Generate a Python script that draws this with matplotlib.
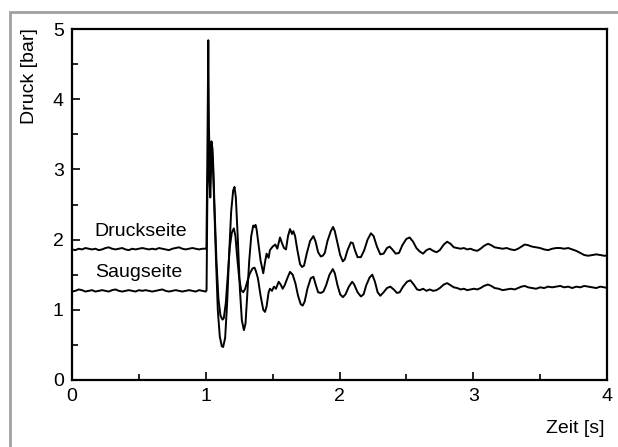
import matplotlib
matplotlib.use("Agg")
import matplotlib.pyplot as plt
from matplotlib.patches import Rectangle
from matplotlib.ticker import MultipleLocator

plt.rcParams['font.family'] = ['Liberation Sans', 'DejaVu Sans']

# Druckseite (pressure side)
t_druck = [
    0.000, 0.025, 0.050, 0.075, 0.100, 0.125, 0.150, 0.175, 0.200, 0.225,
    0.250, 0.275, 0.300, 0.325, 0.350, 0.375, 0.400, 0.425, 0.450, 0.475,
    0.500, 0.525, 0.550, 0.575, 0.600, 0.625, 0.650, 0.675, 0.700, 0.725,
    0.750, 0.775, 0.800, 0.825, 0.850, 0.875, 0.900, 0.925, 0.950, 0.975,
    1.000, 1.005, 1.012, 1.019, 1.024, 1.030, 1.036, 1.043, 1.050, 1.060,
    1.075, 1.090, 1.105, 1.120, 1.130, 1.145, 1.160, 1.175, 1.190, 1.205,
    1.215, 1.225, 1.240, 1.255, 1.270, 1.285, 1.297, 1.310, 1.325, 1.340,
    1.355, 1.365, 1.372, 1.380, 1.390, 1.410, 1.430, 1.445, 1.455, 1.470,
    1.480, 1.500, 1.520, 1.535, 1.555, 1.570, 1.585, 1.600, 1.615, 1.630,
    1.645, 1.655, 1.668, 1.685, 1.705, 1.720, 1.735, 1.755, 1.780, 1.805,
    1.820, 1.840, 1.860, 1.875, 1.890, 1.910, 1.935, 1.952, 1.965, 1.985,
    2.005, 2.025, 2.040, 2.060, 2.085, 2.100, 2.115, 2.135, 2.160, 2.185,
    2.210, 2.235, 2.255, 2.280, 2.305, 2.330, 2.355, 2.375, 2.395, 2.420,
    2.445, 2.470, 2.500, 2.525, 2.550, 2.575, 2.600, 2.625, 2.650, 2.675,
    2.700, 2.725, 2.750, 2.780, 2.805, 2.830, 2.855, 2.880, 2.905, 2.930,
    2.955, 2.980, 3.005, 3.030, 3.055, 3.080, 3.110, 3.135, 3.160, 3.190,
    3.220, 3.250, 3.280, 3.310, 3.335, 3.360, 3.385, 3.410, 3.440, 3.470,
    3.500, 3.530, 3.560, 3.590, 3.620, 3.650, 3.680, 3.710, 3.740, 3.770,
    3.800, 3.830, 3.860, 3.890, 3.920, 3.950, 3.980, 4.000,
]
p_druck = [
    1.86, 1.85, 1.87, 1.86, 1.88, 1.87, 1.86, 1.87, 1.85, 1.86,
    1.88, 1.89, 1.87, 1.86, 1.87, 1.88, 1.86, 1.85, 1.87, 1.86,
    1.87, 1.88, 1.87, 1.86, 1.87, 1.86, 1.88, 1.87, 1.86, 1.85,
    1.87, 1.88, 1.89, 1.87, 1.86, 1.87, 1.88, 1.87, 1.86, 1.87,
    1.87, 1.88, 3.20, 4.84, 3.60, 3.05, 3.30, 3.40, 3.30, 2.70,
    1.80, 1.00, 0.62, 0.48, 0.47, 0.60, 1.10, 1.80, 2.40, 2.70,
    2.75, 2.60, 2.00, 1.30, 0.85, 0.71, 0.80, 1.20, 1.70, 2.05,
    2.20, 2.18, 2.21, 2.15, 2.00, 1.70, 1.52, 1.70, 1.80, 1.74,
    1.85, 1.90, 1.93, 1.87, 2.03, 1.95, 1.88, 1.86, 2.05, 2.15,
    2.08, 2.12, 2.05, 1.85, 1.65, 1.61, 1.63, 1.80, 1.98, 2.05,
    1.98, 1.82, 1.76, 1.77, 1.81, 1.98, 2.12, 2.18, 2.12, 1.95,
    1.78, 1.69, 1.72, 1.85, 1.96, 1.95, 1.85, 1.75, 1.75, 1.85,
    2.00, 2.09, 2.05, 1.90, 1.79, 1.80, 1.88, 1.90, 1.86, 1.80,
    1.81, 1.92, 2.01, 2.03, 1.97, 1.88, 1.83, 1.80, 1.85, 1.87,
    1.84, 1.82, 1.85, 1.93, 1.97, 1.94, 1.89, 1.88, 1.87, 1.88,
    1.86, 1.87, 1.85, 1.84, 1.87, 1.91, 1.94, 1.92, 1.89, 1.88,
    1.87, 1.88, 1.86, 1.85, 1.87, 1.90, 1.93, 1.92, 1.90, 1.89,
    1.88, 1.86, 1.85, 1.87, 1.88, 1.88, 1.87, 1.88, 1.86, 1.84,
    1.81, 1.78, 1.77, 1.78, 1.79, 1.78, 1.77, 1.77,
]

# Saugseite (suction side)
t_saug = [
    0.000, 0.025, 0.050, 0.075, 0.100, 0.125, 0.150, 0.175, 0.200, 0.225,
    0.250, 0.275, 0.300, 0.325, 0.350, 0.375, 0.400, 0.425, 0.450, 0.475,
    0.500, 0.525, 0.550, 0.575, 0.600, 0.625, 0.650, 0.675, 0.700, 0.725,
    0.750, 0.775, 0.800, 0.825, 0.850, 0.875, 0.900, 0.925, 0.950, 0.975,
    1.000, 1.006, 1.012, 1.018, 1.023, 1.028, 1.034, 1.040, 1.047, 1.055,
    1.065, 1.080, 1.095, 1.110, 1.125, 1.135, 1.150, 1.165, 1.180, 1.195,
    1.210, 1.222, 1.235, 1.250, 1.265, 1.280, 1.295, 1.310, 1.330, 1.350,
    1.365, 1.375, 1.390, 1.410, 1.430, 1.443, 1.455, 1.470, 1.480, 1.495,
    1.510, 1.525, 1.545, 1.560, 1.575, 1.590, 1.610, 1.630, 1.650, 1.670,
    1.690, 1.710, 1.725, 1.740, 1.760, 1.785, 1.805, 1.825, 1.840, 1.860,
    1.880, 1.900, 1.925, 1.950, 1.965, 1.985, 2.005, 2.025, 2.045, 2.070,
    2.095, 2.110, 2.135, 2.160, 2.180, 2.200, 2.225, 2.245, 2.265, 2.285,
    2.305, 2.330, 2.355, 2.380, 2.405, 2.430, 2.450, 2.475, 2.505, 2.530,
    2.555, 2.580, 2.600, 2.625, 2.650, 2.675, 2.700, 2.725, 2.750, 2.780,
    2.805, 2.830, 2.855, 2.880, 2.905, 2.930, 2.955, 2.980, 3.005, 3.030,
    3.055, 3.080, 3.110, 3.135, 3.160, 3.190, 3.220, 3.250, 3.280, 3.310,
    3.335, 3.360, 3.385, 3.410, 3.440, 3.470, 3.500, 3.530, 3.560, 3.590,
    3.620, 3.650, 3.680, 3.710, 3.740, 3.770, 3.800, 3.830, 3.860, 3.890,
    3.920, 3.950, 3.980, 4.000,
]
p_saug = [
    1.26, 1.27, 1.29, 1.28, 1.26, 1.27, 1.28, 1.26, 1.27, 1.28,
    1.27, 1.26, 1.28, 1.29, 1.27, 1.26, 1.27, 1.28, 1.27, 1.26,
    1.28, 1.27, 1.28, 1.27, 1.26, 1.27, 1.28, 1.29, 1.27, 1.26,
    1.27, 1.28, 1.27, 1.26, 1.27, 1.28, 1.27, 1.26, 1.28, 1.27,
    1.26, 1.28, 2.60, 3.10, 3.40, 2.90, 2.60, 3.00, 3.30, 3.10,
    2.50, 1.70, 1.15, 0.92, 0.86, 0.88, 1.10, 1.50, 1.90, 2.10,
    2.16, 2.05, 1.75, 1.45, 1.28, 1.25, 1.30, 1.40, 1.52, 1.59,
    1.60, 1.55, 1.45, 1.20, 1.00, 0.97, 1.05, 1.25, 1.30, 1.27,
    1.33, 1.30, 1.40, 1.36, 1.30, 1.35, 1.45, 1.54, 1.50, 1.38,
    1.20, 1.08, 1.06, 1.12, 1.30, 1.45, 1.47, 1.34, 1.25, 1.24,
    1.26, 1.35, 1.50, 1.58, 1.52, 1.35, 1.22, 1.18, 1.22, 1.33,
    1.40, 1.36, 1.25, 1.19, 1.22, 1.35, 1.46, 1.50, 1.40, 1.25,
    1.20, 1.25, 1.31, 1.33, 1.29, 1.24, 1.25, 1.33, 1.40, 1.42,
    1.36, 1.29, 1.28, 1.30, 1.27, 1.29, 1.27, 1.28, 1.31, 1.36,
    1.38, 1.35, 1.32, 1.31, 1.29, 1.30, 1.28, 1.29, 1.30, 1.29,
    1.31, 1.34, 1.36, 1.34, 1.31, 1.30, 1.28, 1.29, 1.30, 1.29,
    1.31, 1.33, 1.34, 1.32, 1.31, 1.30, 1.32, 1.31, 1.33, 1.32,
    1.33, 1.34, 1.32, 1.33, 1.31, 1.33, 1.32, 1.34, 1.33, 1.32,
    1.31, 1.33, 1.32, 1.31,
]

fig = plt.figure(figsize=(6.18, 4.47), dpi=100)
ax = fig.add_axes([72 / 618, 1 - 380 / 447, 535 / 618, 351 / 447])

# grey frame around the whole graphic
fig.patches.append(Rectangle((10 / 618, -0.2), 1.2, 0.2 + 1 - 12 / 447,
                             transform=fig.transFigure, fill=False,
                             edgecolor='#a0a0a0', linewidth=2.0))

ax.plot(t_druck, p_druck, color='black', linewidth=1.4)
ax.plot(t_saug, p_saug, color='black', linewidth=1.4)

ax.text(0.17, 2.12, 'Druckseite', fontsize=14, va='center', ha='left')
ax.text(0.17, 1.53, 'Saugseite', fontsize=14, va='center', ha='left')

ax.set_xlim(0, 4)
ax.set_ylim(0, 5)
ax.xaxis.set_major_locator(MultipleLocator(1))
ax.xaxis.set_minor_locator(MultipleLocator(0.5))
ax.yaxis.set_major_locator(MultipleLocator(1))
ax.yaxis.set_minor_locator(MultipleLocator(0.5))
ax.tick_params(which='both', direction='in', labelsize=14, width=1.2)
ax.tick_params(which='major', length=6, pad=6)
ax.tick_params(which='minor', length=4)
for sp in ax.spines.values():
    sp.set_linewidth(1.6)

fig.text(30 / 618, 1 - 28 / 447, 'Druck [bar]', rotation=90,
         ha='center', va='top', fontsize=14)
fig.text(605 / 618, 1 - 433 / 447, 'Zeit [s]', ha='right', va='baseline',
         fontsize=14)

fig.savefig('out.png', dpi=100)
